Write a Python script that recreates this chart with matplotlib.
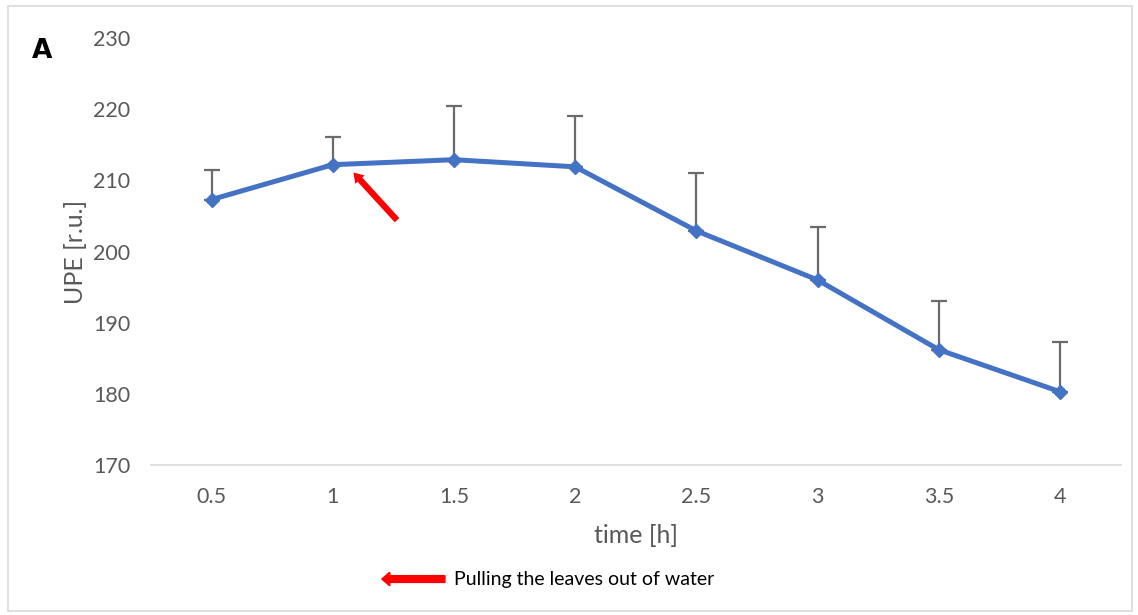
import matplotlib.pyplot as plt
from matplotlib.patches import Rectangle, FancyArrow

# Data
time_h = ["0.5", "1", "1.5", "2", "2.5", "3", "3.5", "4"]
upe = [207.3, 212.2, 212.9, 211.9, 202.9, 196.0, 186.2, 180.3]
upe_err = [4.1, 3.9, 7.6, 7.1, 8.2, 7.4, 6.8, 7.0]

plt.rcParams['font.family'] = ['Lato', 'DejaVu Sans']

fig = plt.figure(figsize=(11.38, 6.15), dpi=100)
ax = fig.add_axes([0.1327, 0.2439, 0.852, 0.6943])

x = list(range(len(time_h)))
ax.errorbar(x, upe, yerr=[[0] * len(upe), upe_err], fmt='none',
            ecolor='#6b6b6b', elinewidth=1.6, capsize=6, capthick=1.6, zorder=2)
ax.plot(x, upe, color='#4472C4', lw=3.6, marker='D', ms=7, zorder=3)

ax.set_xlim(-0.5, len(time_h) - 0.5)
ax.set_ylim(170, 230)
ax.set_yticks(range(170, 231, 10))
ax.set_xticks(x)
ax.set_xticklabels(time_h)
ax.tick_params(axis='both', length=0, labelsize=15.5, colors='#595959')
ax.tick_params(axis='x', pad=16)
ax.tick_params(axis='y', pad=15)

for s in ['top', 'right', 'left']:
    ax.spines[s].set_visible(False)
ax.spines['bottom'].set_color('#d9d9d9')
ax.spines['bottom'].set_linewidth(1.2)

ax.set_xlabel('time [h]', fontsize=18, color='#595959', labelpad=12)
ax.set_ylabel('UPE [r.u.]', fontsize=18, color='#595959', labelpad=4)

# red arrow pointing to the 1 h point
ax.annotate('', xy=(1.17, 211.1), xytext=(1.53, 204.4),
            arrowprops=dict(arrowstyle='simple,head_length=0.7,head_width=0.9,tail_width=0.45',
                            color='#ff0000', lw=0, shrinkA=0, shrinkB=0))

fig.text(0.028, 0.905, 'A', fontsize=19, fontweight='bold', color='black',
         family='DejaVu Sans')

# legend-like note
fig.patches.append(FancyArrow(0.391, 0.0585, -0.0485, 0, width=0.011, head_width=0.022,
                              head_length=0.007, color='#ff0000',
                              transform=fig.transFigure, figure=fig))
fig.text(0.399, 0.0585, 'Pulling the leaves out of water', fontsize=14,
         color='black', va='center')

# chart border
fig.patches.append(Rectangle((0.007, 0.006), 0.988, 0.984, fill=False,
                             edgecolor='#d9d9d9', lw=1.2,
                             transform=fig.transFigure, figure=fig))

fig.savefig('out.png', dpi=100)
